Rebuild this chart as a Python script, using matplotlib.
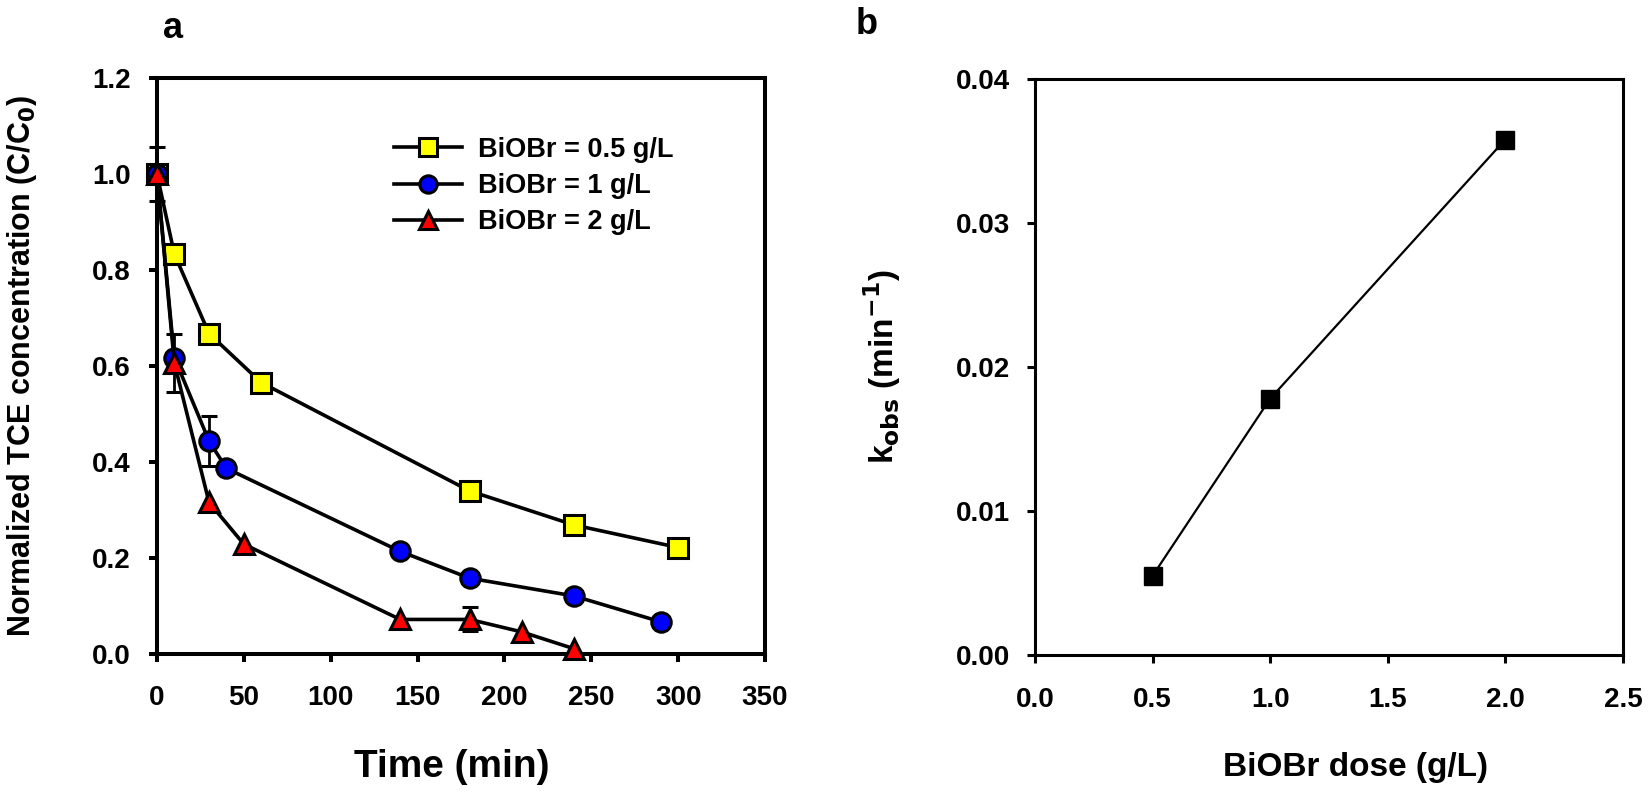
import matplotlib
matplotlib.use("Agg")
import matplotlib.pyplot as plt
from matplotlib.lines import Line2D
import numpy as np

plt.rcParams['font.family'] = ['Liberation Sans', 'DejaVu Sans']
plt.rcParams['font.weight'] = 'bold'
plt.rcParams['mathtext.default'] = 'bf'

# ---- Panel a data ----
t_05 = [0, 10, 30, 60, 180, 240, 300]
c_05 = [1.0, 0.833, 0.667, 0.565, 0.339, 0.268, 0.221]
e_05 = [0, 0, 0, 0, 0, 0, 0]

t_1 = [0, 10, 30, 40, 140, 180, 240, 290]
c_1 = [1.0, 0.617, 0.443, 0.386, 0.213, 0.157, 0.120, 0.066]
e_1 = [0, 0, 0.053, 0, 0, 0, 0, 0]

t_2 = [0, 10, 30, 50, 140, 180, 210, 240]
c_2 = [1.0, 0.606, 0.315, 0.228, 0.071, 0.071, 0.045, 0.010]
e_2 = [0.056, 0.060, 0, 0, 0, 0.025, 0, 0]

labels_a = ['BiOBr = 0.5 g/L', 'BiOBr = 1 g/L', 'BiOBr = 2 g/L']
xticks_a = [0, 50, 100, 150, 200, 250, 300, 350]
yticks_a = [0.0, 0.2, 0.4, 0.6, 0.8, 1.0, 1.2]

# ---- Panel b data ----
dose = [0.5, 1.0, 2.0]
kobs = [0.0055, 0.0178, 0.0358]
xticks_b = [0.0, 0.5, 1.0, 1.5, 2.0, 2.5]
yticks_b = [0.00, 0.01, 0.02, 0.03, 0.04]

fig = plt.figure(figsize=(16.52, 7.99), dpi=100)
ax1 = fig.add_axes([0.0950, 0.1821, 0.3681, 0.7203])
ax2 = fig.add_axes([0.6265, 0.1802, 0.3559, 0.7209])

lw = 2.6
mew = 2.2
series = [
    (t_05, c_05, e_05, 's', '#FFFF00', 14, labels_a[0]),
    (t_1, c_1, e_1, 'o', '#0000FF', 14, labels_a[1]),
    (t_2, c_2, e_2, '^', '#FF0000', 15, labels_a[2]),
]
handles = []
for t, c, e, m, col, ms, lab in series:
    e = np.array(e, dtype=float)
    yerr = np.where(e > 0, e, np.nan)
    ax1.errorbar(t, c, yerr=yerr, fmt='-', marker=m, color='black',
                 mfc=col, mec='black', ms=ms, mew=mew, lw=lw,
                 ecolor='black', elinewidth=2.0, capsize=5.5, capthick=2.0,
                 zorder=3, clip_on=False)
    handles.append(Line2D([], [], color='black', lw=lw, marker=m, mfc=col,
                          mec='black', ms=ms - 1.5, mew=mew, label=lab))

ax1.set_xlim(0, 350)
ax1.set_ylim(0, 1.2)
ax1.set_xticks(xticks_a)
ax1.set_yticks(yticks_a)
ax1.set_yticklabels([f'{v:.1f}' for v in yticks_a])
for s in ax1.spines.values():
    s.set_linewidth(2.9)
ax1.tick_params(direction='out', length=6, width=2.9, labelsize=20)
ax1.tick_params(axis='x', pad=17)
ax1.tick_params(axis='y', pad=13)
for lab in ax1.get_xticklabels() + ax1.get_yticklabels():
    lab.set_fontweight('bold')

ax1.set_xlabel('Time (min)', fontsize=28, fontweight='bold')
ax1.xaxis.set_label_coords(0.484, -0.166)
ax1.set_ylabel(r'Normalized TCE concentration (C/C$_\mathbf{0}$)', fontsize=22, fontweight='bold')
ax1.yaxis.set_label_coords(-0.194, 0.5)

leg = ax1.legend(handles=handles, loc='center left', bbox_to_anchor=(0.39, 0.812),
                 frameon=False, fontsize=19.5, handlelength=2.5, handletextpad=0.6,
                 labelspacing=0.38, borderaxespad=0, borderpad=0)
for txt in leg.get_texts():
    txt.set_fontweight('bold')

# ---- Panel b ----
ax2.plot(dose, kobs, '-', color='black', lw=1.6, marker='s', ms=13,
         mfc='black', mec='black', zorder=3)
ax2.set_xlim(0, 2.5)
ax2.set_ylim(0, 0.04)
ax2.set_xticks(xticks_b)
ax2.set_yticks(yticks_b)
ax2.set_xticklabels([f'{v:.1f}' for v in xticks_b])
ax2.set_yticklabels([f'{v:.2f}' for v in yticks_b])
for s in ax2.spines.values():
    s.set_linewidth(2.2)
ax2.tick_params(direction='out', length=6, width=2.2, labelsize=20)
ax2.tick_params(axis='x', pad=17)
ax2.tick_params(axis='y', pad=12)
for lab in ax2.get_xticklabels() + ax2.get_yticklabels():
    lab.set_fontweight('bold')
ax2.set_xlabel('BiOBr dose (g/L)', fontsize=24, fontweight='bold')
ax2.xaxis.set_label_coords(0.545, -0.168)
ax2.set_ylabel(r'k$_\mathbf{obs}$ (min$^\mathbf{-1}$)', fontsize=24, fontweight='bold')
ax2.yaxis.set_label_coords(-0.224, 0.5)

fig.text(173 / 1652, 1 - 28 / 799, 'a', fontsize=26, fontweight='bold', ha='center', va='center')
fig.text(867 / 1652, 1 - 25 / 799, 'b', fontsize=26, fontweight='bold', ha='center', va='center')

fig.savefig('out.png', dpi=100)
